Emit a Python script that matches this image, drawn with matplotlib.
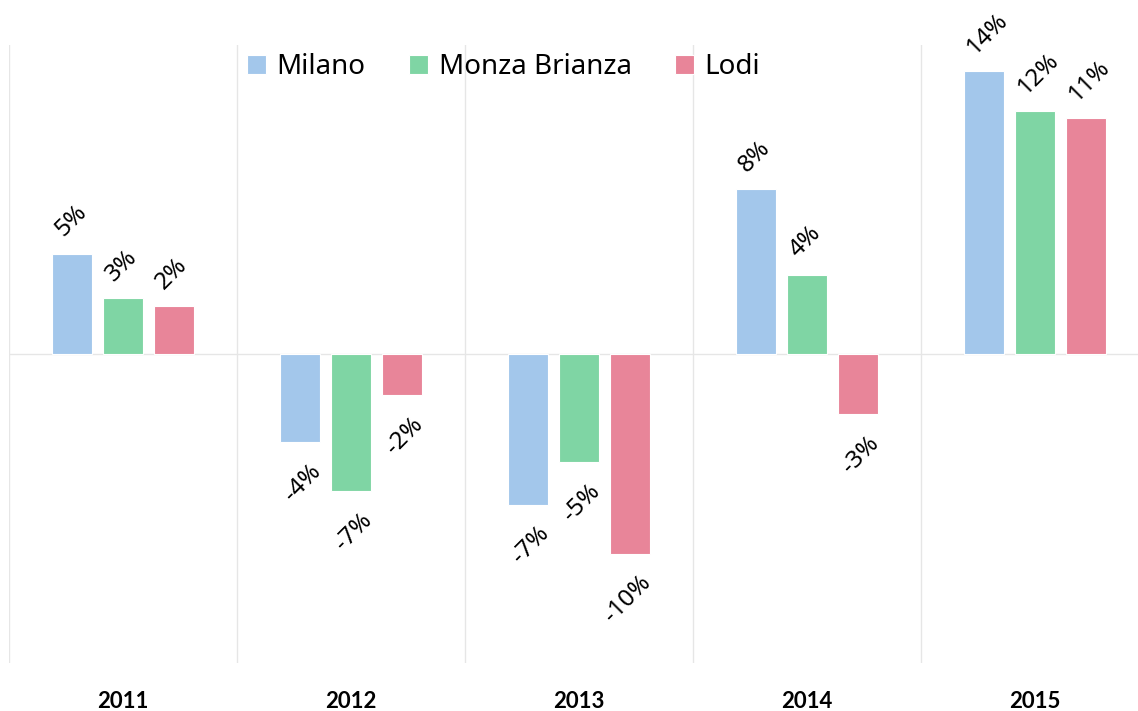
import matplotlib
matplotlib.use("Agg")
import matplotlib.pyplot as plt
import numpy as np

years = ["2011", "2012", "2013", "2014", "2015"]
series_names = ["Milano", "Monza Brianza", "Lodi"]
milano = [4.87, -4.29, -7.31, 7.99, 13.74]
monza = [2.73, -6.67, -5.26, 3.85, 11.79]
lodi = [2.34, -2.00, -9.69, -2.92, 11.45]
colors = ["#a3c7eb", "#7fd5a4", "#e88599"]

plt.rcParams['font.family'] = ['Noto Sans', 'DejaVu Sans']

W, H = 1138, 711
fig = plt.figure(figsize=(W / 100, H / 100), dpi=100)
left_px, right_px, top_px, bottom_px = 9, 1138, 45, 663
ax = fig.add_axes([left_px / W, (H - bottom_px) / H, (right_px - left_px) / W, (bottom_px - top_px) / H])

cat_px = 228.0
x0 = -0.5
x1 = x0 + (right_px - left_px) / cat_px
ax.set_xlim(x0, x1)
ax.set_ylim(-15, 15)

x = np.arange(len(years))
step = 0.222
bw = 0.175
all_series = [milano, monza, lodi]
for i, (name, vals, c) in enumerate(zip(series_names, all_series, colors)):
    xs = x + (i - 1) * step
    ax.bar(xs, vals, width=bw, color=c, edgecolor="white", linewidth=0.8, label=name, zorder=3)
    for xi, v in zip(xs, vals):
        lab = f"{int(round(v))}%"
        if v >= 0:
            ax.annotate(lab, (xi, v), xytext=(-5, 12), textcoords="offset pixels",
                        ha="left", va="bottom", rotation=45, rotation_mode="anchor",
                        fontsize=17.5, color="black", zorder=4)
        else:
            ax.annotate(lab, (xi, v), xytext=(9, -17), textcoords="offset pixels",
                        ha="right", va="top", rotation=45, rotation_mode="anchor",
                        fontsize=17.5, color="black", zorder=4)

# grid lines
for b in np.arange(len(years)) - 0.5:
    ax.axvline(b, color="#e6e6e6", linewidth=1, zorder=1)
ax.axhline(0, color="#e6e6e6", linewidth=1, zorder=2)

for s in ax.spines.values():
    s.set_visible(False)
ax.set_yticks([])
ax.set_xticks(x)
ax.set_xticklabels(years, fontsize=16, fontweight="bold", family=["Lato", "DejaVu Sans"])
ax.tick_params(axis="x", length=0, pad=20)

leg = fig.legend(loc="center", bbox_to_anchor=(503.5 / W, 1 - 67 / H), ncol=3, frameon=False,
                 fontsize=20, handlelength=0.68, handleheight=0.68, handletextpad=0.4,
                 columnspacing=1.55, borderaxespad=0)

fig.savefig("out.png", dpi=100)
